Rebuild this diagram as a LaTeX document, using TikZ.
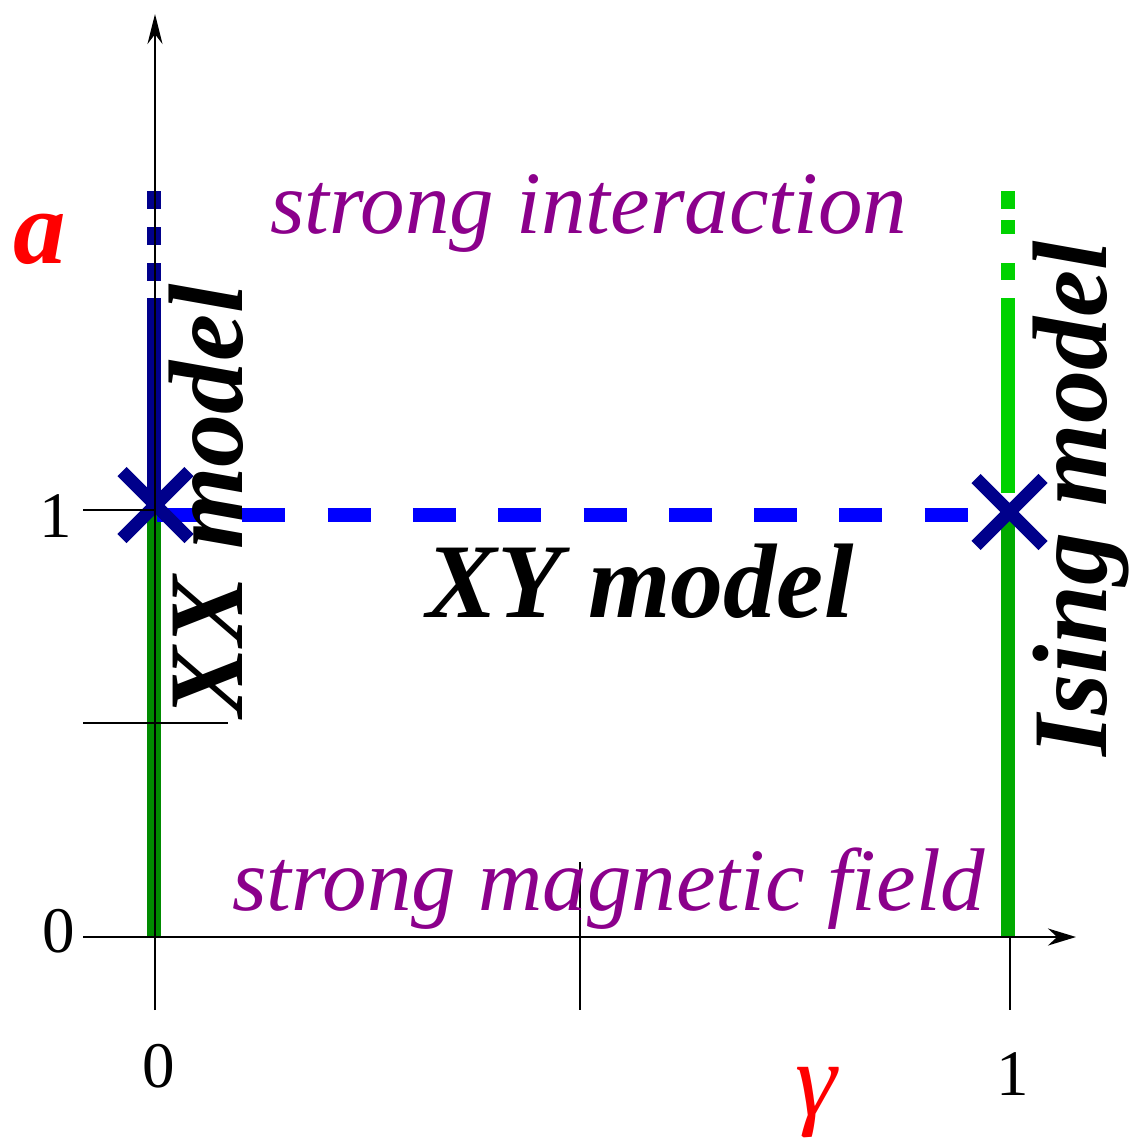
\documentclass[tikz,border=0pt]{standalone}
\usepackage{fontspec}
\setmainfont{Liberation Serif}
\usetikzlibrary{arrows.meta,shapes.misc}
\definecolor{navyx}{RGB}{0,0,139}
\definecolor{bluex}{RGB}{0,0,255}
\definecolor{greenA}{RGB}{0,139,0}
\definecolor{greenB}{RGB}{0,170,0}
\definecolor{greenC}{RGB}{0,210,0}
\definecolor{purplex}{RGB}{139,0,139}
\definecolor{redx}{RGB}{255,0,0}
\begin{document}
\begin{tikzpicture}[x=1pt,y=-1pt,
  axisline/.style={black, line width=2.5pt},
  colline/.style={line width=14pt},
  xmark/.style={cross out, draw=navyx, line width=13pt, minimum size=54pt, inner sep=0pt},
  purpletext/.style={text=purplex, font=\fontsize{89}{89}\selectfont\itshape, inner sep=0pt},
  bigbold/.style={text=black, font=\fontsize{106}{106}\selectfont\bfseries\itshape, inner sep=0pt},
  numlabel/.style={text=black, font=\fontsize{65}{65}\selectfont, inner sep=0pt},
  redlabel/.style={text=redx, font=\fontsize{105}{105}\selectfont\itshape, inner sep=0pt}]
\useasboundingbox (0,0) rectangle (1131,1143);
% coordinates
\coordinate (ytop) at (155,14);
\coordinate (ybot) at (155,1010);
\coordinate (xleft) at (83,937);
\coordinate (xright) at (1076,937);
\coordinate (t1a) at (83,510);   \coordinate (t1b) at (155,510);
\coordinate (tma) at (83,723);   \coordinate (tmb) at (228,723);
\coordinate (tha) at (580,862);  \coordinate (thb) at (580,1010);
\coordinate (tra) at (1010,937); \coordinate (trb) at (1010,1010);
\coordinate (L0) at (154,191); \coordinate (L1) at (154,298);
\coordinate (L2) at (154,510); \coordinate (L3) at (154,937);
\coordinate (R0) at (1008,191); \coordinate (R1) at (1008,298);
\coordinate (R2) at (1008,493); \coordinate (R3) at (1008,512);
\coordinate (R4) at (1008,937);
\coordinate (B0) at (157,515); \coordinate (B1) at (969,515);
% coloured lines
\draw[colline, navyx, dash pattern=on 18pt off 18pt] (L0) -- (L1);
\draw[colline, navyx] (L1) -- (L2);
\draw[colline, greenA] (L2) -- (L3);
\draw[colline, greenC, dash pattern=on 18pt off 11pt on 14pt off 29pt on 17pt off 18pt] (R0) -- (R1);
\draw[colline, greenC] (R1) -- (R2);
\draw[colline, greenB] (R3) -- (R4);
\draw[colline, bluex, dash pattern=on 43pt off 42.3pt] (B0) -- (B1);
% cross marks
\node[xmark] (xl) at (155.5,505) {};
\node[xmark] (xr) at (1009.5,512) {};
% axes and ticks
\draw[axisline, -{Stealth[length=30pt,width=15pt]}] (ybot) -- (ytop);
\draw[axisline, -{Stealth[length=28pt,width=17pt]}] (xleft) -- (xright);
\draw[axisline] (t1a) -- (t1b);
\draw[axisline] (tma) -- (tmb);
\draw[axisline] (tha) -- (thb);
\draw[axisline] (tra) -- (trb);
% texts
\node[purpletext, anchor=base west] (si) at (270,233) {strong interaction};
\node[purpletext, anchor=base west] (smf) at (232,910) {strong magnetic field};
\node[bigbold, anchor=base] (xy) at (640,617) {XY model};
\node[bigbold, rotate=90, anchor=base] (xx) at (242,501) {XX model};
\node[bigbold, rotate=90, anchor=base] (ising) at (1106,499) {Ising model};
\node[numlabel, anchor=base] (l1) at (56,537) {1};
\node[numlabel, anchor=base] (l0) at (59,952) {0};
\node[numlabel, anchor=base] (b0) at (159,1087) {0};
\node[numlabel, anchor=base] (b1) at (1013,1095) {1};
\node[redlabel, anchor=base] (alab) at (40,263) {\bfseries a};
\node[redlabel, anchor=base] (glab) at (816,1115) {γ};
\end{tikzpicture}
\end{document}
